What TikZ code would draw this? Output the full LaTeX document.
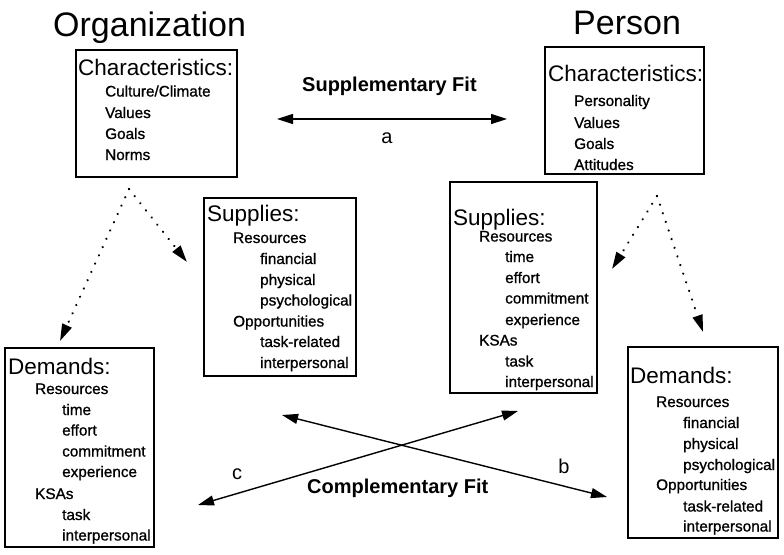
\documentclass[tikz,border=0pt]{standalone}
\usepackage{fontspec}
\setmainfont{Liberation Sans}
\newfontfamily\itemfont[FakeBold=1]{Liberation Sans}
\usetikzlibrary{arrows.meta}
\tikzset{
  box/.style={draw, line width=1.4pt, inner sep=0pt, outer sep=0pt, anchor=north west},
  ttl/.style={anchor=base west, inner sep=0pt, font=\fontsize{34}{40}\selectfont},
  hdr/.style={anchor=base west, inner sep=0pt, font=\fontsize{22.5}{26}\selectfont},
  itm/.style={anchor=base west, inner sep=0pt, font=\itemfont\fontsize{15.3}{18}\selectfont},
  fitlbl/.style={anchor=base west, inner sep=0pt, font=\bfseries\fontsize{20}{24}\selectfont},
  letter/.style={inner sep=0pt, font=\fontsize{20}{24}\selectfont},
  fitarrow/.style={line width=1.4pt, {Triangle[length=16pt,width=10pt]}-{Triangle[length=16pt,width=10pt]}},
  dotarrow/.style={line width=2.4pt, line cap=round, dash pattern=on 0.1pt off 9pt, -{Triangle[length=17pt,width=10pt]}}
}
\begin{document}
\begin{tikzpicture}[x=1pt,y=-1pt]
\useasboundingbox (0,0) rectangle (784,554);
% titles
\node[ttl] (orgtitle) at (53,36) {Organization};
\node[ttl] (pertitle) at (573,34) {Person};
% boxes
\node[box, minimum width=161pt, minimum height=127pt] (orgchar) at (76,50) {};
\node[box, minimum width=159pt, minimum height=127pt] (perchar) at (545,47) {};
\node[box, minimum width=152pt, minimum height=178pt] (orgsup) at (204,198) {};
\node[box, minimum width=147pt, minimum height=211pt] (persup) at (450,182) {};
\node[box, minimum width=149pt, minimum height=199pt] (orgdem) at (5,348) {};
\node[box, minimum width=150pt, minimum height=191pt] (perdem) at (628,347) {};
% Organization characteristics
\node[hdr] (oc0) at (78,75) {Characteristics:};
\node[itm] (oc1) at (105,96.5) {Culture/Climate};
\node[itm] (oc2) at (105,118) {Values};
\node[itm] (oc3) at (105,139) {Goals};
\node[itm] (oc4) at (105,160) {Norms};
% Person characteristics
\node[hdr] (pc0) at (548,81.5) {Characteristics:};
\node[itm] (pc1) at (574,106) {Personality};
\node[itm] (pc2) at (574,128) {Values};
\node[itm] (pc3) at (574,149) {Goals};
\node[itm] (pc4) at (574,170) {Attitudes};
% Organization supplies
\node[hdr] (os0) at (207,221.5) {Supplies:};
\node[itm] (os1) at (233,243) {Resources};
\node[itm] (os2) at (260,264) {financial};
\node[itm] (os3) at (260,285) {physical};
\node[itm] (os4) at (260,305.5) {psychological};
\node[itm] (os5) at (233,326.5) {Opportunities};
\node[itm] (os6) at (260,347) {task-related};
\node[itm] (os7) at (260,368) {interpersonal};
% Person supplies
\node[hdr] (ps0) at (453,225) {Supplies:};
\node[itm] (ps1) at (479,241.5) {Resources};
\node[itm] (ps2) at (505,262) {time};
\node[itm] (ps3) at (505,283) {effort};
\node[itm] (ps4) at (505,303.5) {commitment};
\node[itm] (ps5) at (505,325) {experience};
\node[itm] (ps6) at (479,345.5) {KSAs};
\node[itm] (ps7) at (505,366.5) {task};
\node[itm] (ps8) at (505,387) {interpersonal};
% Organization demands
\node[hdr] (od0) at (8,374) {Demands:};
\node[itm] (od1) at (35,394) {Resources};
\node[itm] (od2) at (62,415) {time};
\node[itm] (od3) at (62,435.5) {effort};
\node[itm] (od4) at (62,456.5) {commitment};
\node[itm] (od5) at (62,477) {experience};
\node[itm] (od6) at (35,499) {KSAs};
\node[itm] (od7) at (62,520) {task};
\node[itm] (od8) at (62,540.5) {interpersonal};
% Person demands
\node[hdr] (pd0) at (630,383) {Demands:};
\node[itm] (pd1) at (656,407) {Resources};
\node[itm] (pd2) at (683,428) {financial};
\node[itm] (pd3) at (683,449) {physical};
\node[itm] (pd4) at (683,470) {psychological};
\node[itm] (pd5) at (656,490) {Opportunities};
\node[itm] (pd6) at (683,511.5) {task-related};
\node[itm] (pd7) at (683,531.5) {interpersonal};
% fit labels
\node[fitlbl] (supfit) at (302,91) {Supplementary Fit};
\node[fitlbl] (compfit) at (307,493) {Complementary Fit};
\node[letter] (la) at (387,138) {a};
\node[letter] (lb) at (564,466) {b};
\node[letter] (lc) at (237,474) {c};
% connector end points
\coordinate (orgapex) at (129,189);
\coordinate (orgdemtip) at (60,341);
\coordinate (orgsuptip) at (187,262);
\coordinate (perapex) at (657,196);
\coordinate (persuptip) at (612,269);
\coordinate (perdemtip) at (703,332);
\coordinate (aL) at (277,119);
\coordinate (aR) at (507,119);
\coordinate (bL) at (282,415);
\coordinate (bR) at (607,497);
\coordinate (cR) at (518,411);
\coordinate (cL) at (198,505);
% connectors
\draw[dotarrow] (orgapex) -- (orgdemtip);
\draw[dotarrow] (orgapex) -- (orgsuptip);
\draw[dotarrow] (perapex) -- (persuptip);
\draw[dotarrow] (perapex) -- (perdemtip);
\draw[fitarrow] (aL) -- (aR);
\draw[fitarrow] (bL) -- (bR);
\draw[fitarrow] (cR) -- (cL);
\end{tikzpicture}
\end{document}
